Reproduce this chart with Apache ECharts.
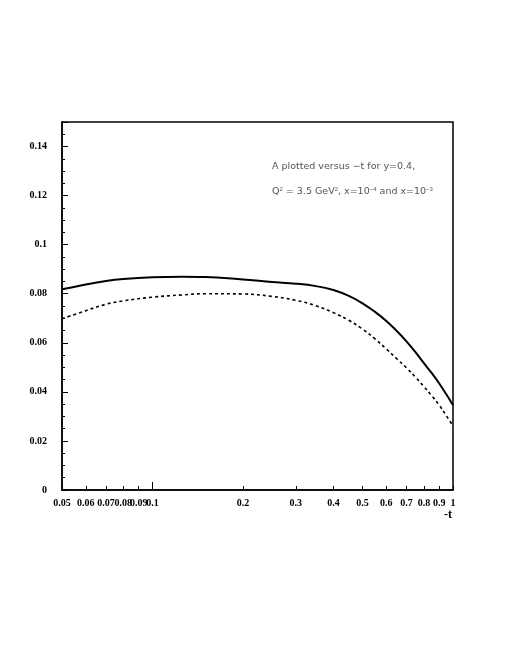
<!DOCTYPE html>
<html>
<head>
<meta charset="utf-8">
<script src="https://cdn.jsdelivr.net/npm/echarts@6/dist/echarts.min.js"></script>
<style>
  html, body { margin: 0; padding: 0; background: #fff; }
  #chart { width: 505px; height: 654px; }
</style>
</head>
<body>
<div id="chart"></div>
<script>
// -t values and A(t)
const tValues = [0.05, 0.06, 0.07, 0.08, 0.1, 0.125, 0.15, 0.2, 0.25, 0.3, 0.35, 0.4, 0.45, 0.5, 0.55, 0.6, 0.65, 0.7, 0.75, 0.8, 0.85, 0.9, 0.95, 1.0]
const solidA  = [0.0818, 0.0838, 0.0852, 0.0860, 0.0867, 0.0869, 0.0868, 0.0858, 0.0848, 0.0841, 0.0831, 0.0815, 0.0791, 0.0761, 0.0726, 0.0689, 0.0648, 0.0606, 0.0562, 0.0517, 0.0476, 0.0434, 0.0390, 0.0346]
const dashedA = [0.0698, 0.0731, 0.0757, 0.0771, 0.0786, 0.0795, 0.0800, 0.0799, 0.0789, 0.0773, 0.0751, 0.0723, 0.0692, 0.0656, 0.0616, 0.0575, 0.0535, 0.0498, 0.0460, 0.0422, 0.0384, 0.0346, 0.0303, 0.0261]

const xTicks = [0.05, 0.06, 0.07, 0.08, 0.09, 0.1, 0.2, 0.3, 0.4, 0.5, 0.6, 0.7, 0.8, 0.9, 1]
const xMajorTicks = [0.1]

const chart = echarts.init(document.getElementById("chart"))

const labelFont = {
  fontFamily: "Liberation Serif",
  fontWeight: "bold",
  fontSize: 10,
  color: "#000"
}

const options = {
  animation: false,
  grid: {
    left: 62,
    right: 52,
    top: 122,
    bottom: 164,
    show: true,
    borderColor: "#000",
    borderWidth: 1.5
  },
  xAxis: [
    {
      type: "log",
      logBase: 10,
      min: 0.05,
      max: 1,
      axisLine: { show: true, onZero: false, lineStyle: { color: "#000", width: 1.5 } },
      axisTick: { show: true, inside: true, length: 4, customValues: xTicks, lineStyle: { color: "#000" } },
      axisLabel: { customValues: xTicks, margin: 8, ...labelFont, formatter: (v) => String(+v.toPrecision(2)) },
      splitLine: { show: false }
    },
    {
      type: "log",
      logBase: 10,
      min: 0.05,
      max: 1,
      position: "bottom",
      axisLine: { show: false },
      axisTick: { show: true, inside: true, length: 8, customValues: xMajorTicks, lineStyle: { color: "#000" } },
      axisLabel: { show: false },
      splitLine: { show: false }
    }
  ],
  yAxis: {
    type: "value",
    min: 0,
    max: 0.15,
    interval: 0.02,
    axisLine: { show: true, lineStyle: { color: "#000", width: 1.5 } },
    axisTick: { show: true, inside: true, length: 6, lineStyle: { color: "#000" } },
    minorTick: { show: true, splitNumber: 4, length: 3, lineStyle: { color: "#000" } },
    axisLabel: { margin: 15, showMaxLabel: false, ...labelFont },
    splitLine: { show: false }
  },
  graphic: [
    {
      type: "text",
      left: 272,
      top: 162,
      style: {
        text: "A plotted versus \u2212t for y=0.4,",
        font: "9.5px 'DejaVu Sans'",
        fill: "#555"
      }
    },
    {
      type: "text",
      left: 272,
      top: 186,
      style: {
        text: "Q{sup|2} = 3.5 GeV{sup|2}, x=10{sup|\u22124} and x=10{sup|\u22123}",
        font: "9.5px 'DejaVu Sans'",
        fill: "#555",
        rich: { sup: { fontSize: 6, verticalAlign: "top", padding: [0, 0, 5, 0], fill: "#555" } }
      }
    },
    {
      type: "text",
      left: 444,
      top: 509,
      style: { text: "-t", font: "bold 12px 'Liberation Serif'", fill: "#000" }
    }
  ],
  series: [
    {
      name: "x=1e-4",
      type: "line",
      smooth: 0.4,
      symbol: "none",
      lineStyle: { color: "#000", width: 2 },
      data: tValues.map((t, i) => [t, solidA[i]])
    },
    {
      name: "x=1e-3",
      type: "line",
      smooth: 0.4,
      symbol: "none",
      lineStyle: { color: "#000", width: 1.6, type: [3, 3] },
      data: tValues.map((t, i) => [t, dashedA[i]])
    }
  ]
}

chart.setOption(options)
</script>
</body>
</html>
